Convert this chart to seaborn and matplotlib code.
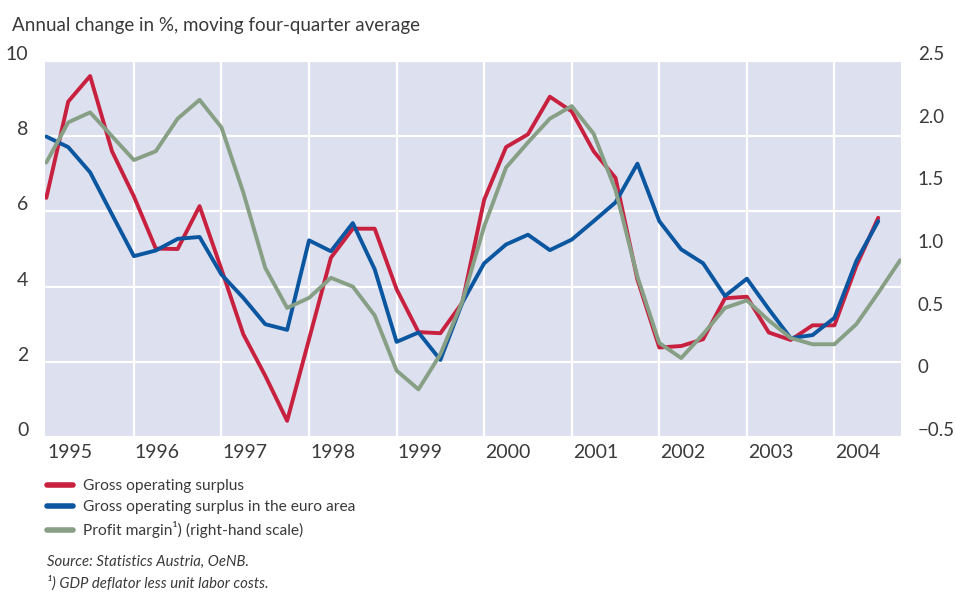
import numpy as np
import pandas as pd
import matplotlib
matplotlib.use("Agg")
import matplotlib.pyplot as plt
from matplotlib.lines import Line2D
from matplotlib.transforms import ScaledTranslation
import seaborn as sns

# ---- data (quarterly, moving four-quarter average) ----
quarters = pd.period_range("1995Q1", "2004Q4", freq="Q")
gross_surplus = [6.36, 8.92, 9.60, 7.60, 6.40, 5.01, 5.00, 6.14, 4.46, 2.73,
                 1.63, 0.43, 2.60, 4.77, 5.54, 5.54, 3.93, 2.79, 2.76, 3.57,
                 6.31, 7.71, 8.05, 9.05, 8.66, 7.60, 6.89, 4.19, 2.38, 2.42,
                 2.60, 3.69, 3.73, 2.78, 2.58, 2.97, 2.97, 4.55, 5.83]
gross_surplus_euro = [7.99, 7.71, 7.04, 5.92, 4.81, 4.96, 5.27, 5.32, 4.32, 3.70,
                      3.00, 2.85, 5.23, 4.94, 5.69, 4.46, 2.53, 2.78, 2.05, 3.57,
                      4.62, 5.12, 5.38, 4.97, 5.25, 5.74, 6.24, 7.27, 5.74, 4.99,
                      4.62, 3.75, 4.21, 3.40, 2.63, 2.71, 3.17, 4.68, 5.74]
profit_margin = [1.69, 2.01, 2.09, 1.90, 1.71, 1.78, 2.04, 2.19, 1.97, 1.45,
                 0.85, 0.53, 0.61, 0.77, 0.70, 0.47, 0.03, -0.12, 0.16, 0.58,
                 1.18, 1.65, 1.85, 2.04, 2.14, 1.92, 1.47, 0.78, 0.25, 0.13,
                 0.32, 0.53, 0.59, 0.43, 0.29, 0.24, 0.24, 0.40, 0.65, 0.91]
year_labels = ["1995", "1996", "1997", "1998", "1999", "2000", "2001", "2002", "2003", "2004"]
left_ticks = [0, 2, 4, 6, 8, 10]
right_ticks = [-0.5, 0, 0.5, 1.0, 1.5, 2.0, 2.5]
right_tick_labels = ["\u22120.5", "0", "0.5", "1.0", "1.5", "2.0", "2.5"]
series_names = ["Gross operating surplus",
                "Gross operating surplus in the euro area",
                "Profit margin\u00b9) (right-hand scale)"]

xpos = np.array([p.year + (p.quarter - 1) / 4 for p in quarters])
df_left = pd.DataFrame({
    "x": np.concatenate([xpos[:len(gross_surplus)], xpos[:len(gross_surplus_euro)]]),
    "value": gross_surplus + gross_surplus_euro,
    "series": [series_names[0]] * len(gross_surplus) + [series_names[1]] * len(gross_surplus_euro),
})
df_right = pd.DataFrame({"x": xpos[:len(profit_margin)], "value": profit_margin})

RED = "#C8203F"
BLUE = "#0A56A0"
GREEN = "#879F85"
BG = "#DDE0EE"
TXT = "#3a3a3a"

sns.set_theme(style="darkgrid", rc={"axes.facecolor": BG, "grid.color": "white",
                                     "grid.linewidth": 1.6})
plt.rcParams["font.family"] = ["Lato", "DejaVu Sans"]

W, H = 956, 593
fig = plt.figure(figsize=(W / 100, H / 100), dpi=100)
L, R, T, B = 45, 901, 61, 437
ax = fig.add_axes([L / W, (H - B) / H, (R - L) / W, (B - T) / H])

sns.lineplot(data=df_left, x="x", y="value", hue="series",
             palette=[RED, BLUE], linewidth=2.8, ax=ax, legend=False)
ax2 = ax.twinx()
sns.lineplot(data=df_right, x="x", y="value", color=GREEN, linewidth=2.8,
             ax=ax2, legend=False)

ax.set_xlim(1994.985, 2004.76)
ax.set_ylim(0, 10)
ax2.set_ylim(-0.5, 2.5)
ax.set_xlabel("")
ax.set_ylabel("")
ax2.set_ylabel("")
ax2.grid(False)
ax.grid(False, axis="x")
for yr in year_labels[1:]:
    ax.axvline(int(yr), color="white", linewidth=1.6, zorder=0.8)
for a in (ax, ax2):
    for s in a.spines.values():
        s.set_visible(False)

ax.set_xticks([int(y) for y in year_labels])
ax.set_xticklabels(year_labels, ha="left", fontsize=14, color=TXT)
ax.tick_params(axis="x", length=0, pad=5)
for lab in ax.get_xticklabels():
    lab.set_transform(lab.get_transform() + ScaledTranslation(1 / 100, 0, fig.dpi_scale_trans))

ax.set_yticks(left_ticks)
ax.set_yticklabels([str(t) for t in left_ticks], fontsize=14, color=TXT)
ax.tick_params(axis="y", length=0, pad=12)
ax2.set_yticks(right_ticks)
ax2.set_yticklabels(right_tick_labels, fontsize=13.5, color=TXT)
ax2.tick_params(axis="y", length=0, pad=12)
for lab in list(ax.get_yticklabels()) + list(ax2.get_yticklabels()):
    lab.set_transform(lab.get_transform() + ScaledTranslation(0, 8 / 100, fig.dpi_scale_trans))

fig.text(12 / W, 1 - 25 / H, "Annual change in %, moving four-quarter average",
         fontsize=13.5, color=TXT, va="center", ha="left")

handles = [Line2D([], [], color=c, linewidth=4) for c in (RED, BLUE, GREEN)]
fig.legend(handles, series_names, loc="upper left",
           bbox_to_anchor=(47 / W, 1 - 479 / H), frameon=False, fontsize=11.2,
           handlelength=1.65, handletextpad=0.65, labelspacing=0.45,
           labelcolor=TXT, borderaxespad=0, borderpad=0)

fig.text(47 / W, 1 - 562 / H, "Source: Statistics Austria, OeNB.", fontsize=10.7,
         style="italic", color=TXT, va="center")
fig.text(47 / W, 1 - 583 / H, "\u00b9) GDP deflator less unit labor costs.", fontsize=10.7,
         style="italic", color=TXT, va="center")

fig.savefig("out.png", dpi=100, facecolor="white")
